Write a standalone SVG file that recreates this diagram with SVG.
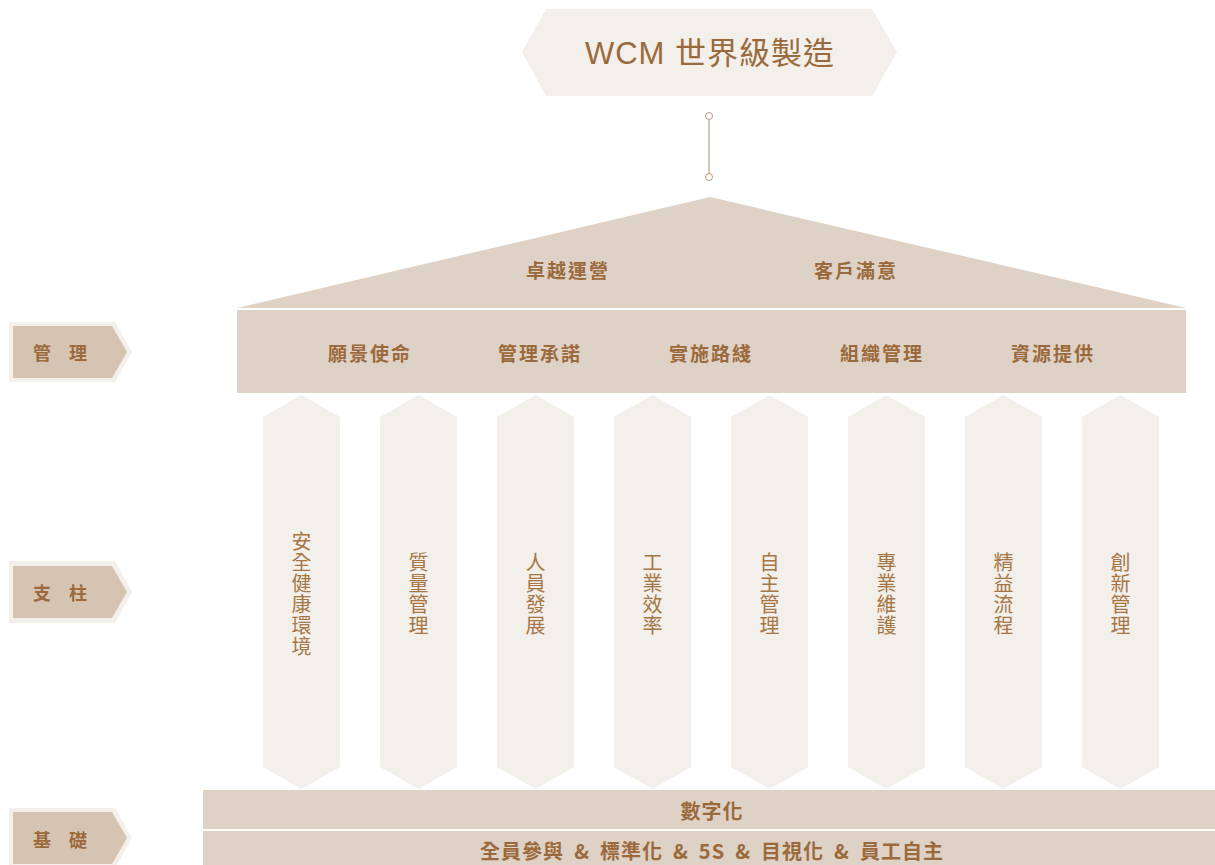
<svg xmlns="http://www.w3.org/2000/svg" width="1215" height="865" viewBox="0 0 1215 865">
<style>
text{font-family:"Noto Sans CJK TC","Noto Sans CJK SC",sans-serif;fill:#9b6a3c;text-anchor:middle;dominant-baseline:central}
.b{font-weight:bold;font-size:19px;letter-spacing:2px}
.p{font-size:20px;fill:#a57746}
.roof{fill:#ded1c5}
.pil{fill:#f3efea}
.tabo{fill:#f3efea}
.tabi{fill:#d6c4b3}
.t{font-weight:bold;font-size:18px}
.f{font-weight:bold;font-size:20px;letter-spacing:1px;word-spacing:4.5px}
</style>
<rect width="1215" height="865" fill="#ffffff"/>
<g id="title">
<polygon class="pil" points="522,52 546,9 872,9 897,52 872,96 546,96"/>
<text x="710" y="53" style="font-family:'Liberation Sans','Noto Sans CJK TC',sans-serif;font-size:31px;letter-spacing:1px">WCM 世界級製造</text>
</g>
<g id="connectors">
<line x1="709" y1="120" x2="709" y2="173" stroke="#c9b29d" stroke-width="1.5"/>
<circle cx="709" cy="116" r="3.5" fill="#fff" stroke="#b8967a" stroke-width="1"/>
<circle cx="709" cy="177" r="3.5" fill="#fff" stroke="#b8967a" stroke-width="1"/>
</g>
<g id="roof">
<polygon class="roof" points="710,197 1186,308 237,308"/>
<text class="b" x="568" y="269">卓越運營</text>
<text class="b" x="856" y="269">客戶滿意</text>
</g>
<g id="management">
<rect class="roof" x="237" y="310" width="949" height="83"/>
<text class="b" x="370" y="352">願景使命</text>
<text class="b" x="540" y="352">管理承諾</text>
<text class="b" x="711" y="352">實施路綫</text>
<text class="b" x="882" y="352">組織管理</text>
<text class="b" x="1053" y="352">資源提供</text>
</g>
<g id="pillars">
<g id="pillar1"><polygon class="pil" points="263,417 301.5,395 340,417 340,767 301.5,789 263,767"/>
<text class="p"><tspan x="301.5" y="540">安</tspan><tspan x="301.5" y="561">全</tspan><tspan x="301.5" y="582">健</tspan><tspan x="301.5" y="603">康</tspan><tspan x="301.5" y="624">環</tspan><tspan x="301.5" y="645">境</tspan></text></g>
<g id="pillar2"><polygon class="pil" points="380,417 418.5,395 457,417 457,767 418.5,789 380,767"/>
<text class="p"><tspan x="418.5" y="561">質</tspan><tspan x="418.5" y="582">量</tspan><tspan x="418.5" y="603">管</tspan><tspan x="418.5" y="624">理</tspan></text></g>
<g id="pillar3"><polygon class="pil" points="497,417 535.5,395 574,417 574,767 535.5,789 497,767"/>
<text class="p"><tspan x="535.5" y="561">人</tspan><tspan x="535.5" y="582">員</tspan><tspan x="535.5" y="603">發</tspan><tspan x="535.5" y="624">展</tspan></text></g>
<g id="pillar4"><polygon class="pil" points="614,417 652.5,395 691,417 691,767 652.5,789 614,767"/>
<text class="p"><tspan x="652.5" y="561">工</tspan><tspan x="652.5" y="582">業</tspan><tspan x="652.5" y="603">效</tspan><tspan x="652.5" y="624">率</tspan></text></g>
<g id="pillar5"><polygon class="pil" points="731,417 769.5,395 808,417 808,767 769.5,789 731,767"/>
<text class="p"><tspan x="769.5" y="561">自</tspan><tspan x="769.5" y="582">主</tspan><tspan x="769.5" y="603">管</tspan><tspan x="769.5" y="624">理</tspan></text></g>
<g id="pillar6"><polygon class="pil" points="848,417 886.5,395 925,417 925,767 886.5,789 848,767"/>
<text class="p"><tspan x="886.5" y="561">專</tspan><tspan x="886.5" y="582">業</tspan><tspan x="886.5" y="603">維</tspan><tspan x="886.5" y="624">護</tspan></text></g>
<g id="pillar7"><polygon class="pil" points="965,417 1003.5,395 1042,417 1042,767 1003.5,789 965,767"/>
<text class="p"><tspan x="1003.5" y="561">精</tspan><tspan x="1003.5" y="582">益</tspan><tspan x="1003.5" y="603">流</tspan><tspan x="1003.5" y="624">程</tspan></text></g>
<g id="pillar8"><polygon class="pil" points="1082,417 1120.5,395 1159,417 1159,767 1120.5,789 1082,767"/>
<text class="p"><tspan x="1120.5" y="561">創</tspan><tspan x="1120.5" y="582">新</tspan><tspan x="1120.5" y="603">管</tspan><tspan x="1120.5" y="624">理</tspan></text></g>
</g>
<g id="foundation">
<rect class="roof" x="203" y="790" width="1012" height="39"/>
<rect class="roof" x="203" y="831" width="1012" height="40"/>
<text class="f" x="712" y="810">數字化</text>
<text class="f" x="712" y="850">全員參與 &amp; 標準化 &amp; 5S &amp; 目視化 &amp; 員工自主</text>
</g>
<g id="tab-management">
<polygon class="tabo" points="9,322 115,322 132,352 115,382 9,382"/>
<polygon class="tabi" points="13,326 112,326 127,352 112,378 13,378"/>
<text class="t" y="352"><tspan x="44">管</tspan> <tspan x="78">理</tspan></text>
</g>
<g id="tab-pillars">
<polygon class="tabo" points="9,561 115,561 132,592 115,623 9,623"/>
<polygon class="tabi" points="13,566 112,566 127,592 112,618 13,618"/>
<text class="t" y="592"><tspan x="44">支</tspan> <tspan x="78">柱</tspan></text>
</g>
<g id="tab-foundation">
<polygon class="tabo" points="9,808 115,808 132,838 115,868 9,868"/>
<polygon class="tabi" points="13,812 112,812 127,838 112,864 13,864"/>
<text class="t" y="839"><tspan x="44">基</tspan> <tspan x="78">礎</tspan></text>
</g>
</svg>
